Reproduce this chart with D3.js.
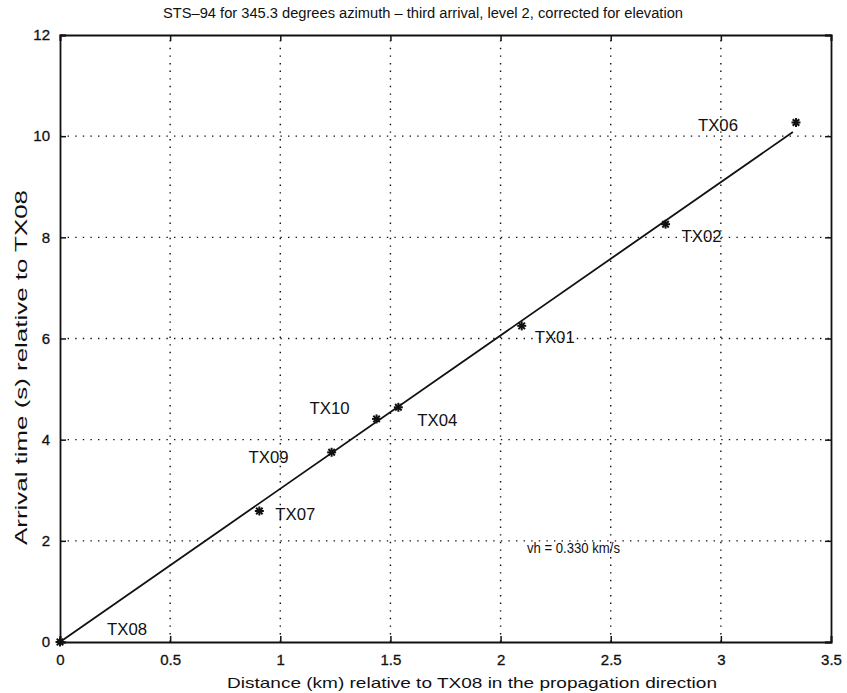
<!DOCTYPE html>
<html><head><meta charset="utf-8">
<script src="https://cdn.jsdelivr.net/npm/d3@7"></script>
<style>
body{margin:0;background:#fff;}
svg{display:block;font-family:"Liberation Sans",Arial,Helvetica,sans-serif;}
</style></head>
<body><div id="chart"></div>
<script>
const stations = ["TX08","TX07","TX09","TX10","TX04","TX01","TX02","TX06"];
const distances = [0, 0.905, 1.233, 1.437, 1.536, 2.096, 2.749, 3.341];
const arrivalTimes = [0, 2.59, 3.75, 4.41, 4.64, 6.25, 8.26, 10.27];
const xTicks = [0, 0.5, 1, 1.5, 2, 2.5, 3, 3.5];
const yTicks = [0, 2, 4, 6, 8, 10, 12];
const velocity = 0.330;
const fitRange = [0, 3.327];

const W = 847, H = 693;
const m = {left: 60, right: 16, top: 35, bottom: 51};
const svg = d3.select("#chart").append("svg").attr("width", W).attr("height", H);
const x = d3.scaleLinear().domain([0, 3.5]).range([m.left, W - m.right]);
const y = d3.scaleLinear().domain([0, 12]).range([H - m.bottom, m.top]);
const ink = "#111";

// grid
const g = svg.append("g");
g.selectAll(".gx").data(xTicks.slice(1, -1)).enter().append("line")
  .attr("x1", d => x(d)).attr("x2", d => x(d)).attr("y1", y(0)).attr("y2", y(12))
  .attr("stroke", ink).attr("stroke-width", 1.4).attr("stroke-dasharray", "1.4,6.2");
g.selectAll(".gy").data(yTicks.slice(1, -1)).enter().append("line")
  .attr("y1", d => y(d)).attr("y2", d => y(d)).attr("x1", x(0)).attr("x2", x(3.5))
  .attr("stroke", ink).attr("stroke-width", 1.4).attr("stroke-dasharray", "1.4,6.2");

// axes with inward ticks
const tickFmt = d => d3.format("")(d);
const axB = d3.axisBottom(x).tickValues(xTicks).tickSize(-6).tickPadding(12).tickFormat(tickFmt);
const axT = d3.axisTop(x).tickValues(xTicks).tickSize(-6).tickFormat("");
const axL = d3.axisLeft(y).tickValues(yTicks).tickSize(-6).tickPadding(10).tickFormat(tickFmt);
const axR = d3.axisRight(y).tickValues(yTicks).tickSize(-6).tickFormat("");
function styleAxis(sel){
  sel.select(".domain").attr("stroke", ink).attr("stroke-width", 1.8);
  sel.selectAll(".tick line").attr("stroke", ink).attr("stroke-width", 1.5);
  sel.selectAll(".tick text").attr("fill", ink).style("font-size", "15px")
    .style("font-family", "'Liberation Sans',Arial,sans-serif").attr("stroke", ink).attr("stroke-width", 0.3);
}
svg.append("g").attr("transform", `translate(0,${y(0)})`).call(axB).call(styleAxis);
svg.append("g").attr("transform", `translate(0,${y(12)})`).call(axT).call(styleAxis);
svg.append("g").attr("transform", `translate(${x(0)},0)`).call(axL).call(styleAxis);
svg.append("g").attr("transform", `translate(${x(3.5)},0)`).call(axR).call(styleAxis);

// fit line
svg.append("line")
  .attr("x1", x(fitRange[0])).attr("y1", y(fitRange[0] / velocity))
  .attr("x2", x(fitRange[1])).attr("y2", y(fitRange[1] / velocity))
  .attr("stroke", ink).attr("stroke-width", 1.8);

// asterisk markers
const pts = stations.map((s, i) => ({name: s, d: distances[i], t: arrivalTimes[i]}));
const r = 4.5;
const mk = svg.selectAll(".pt").data(pts).enter().append("g")
  .attr("transform", d => `translate(${x(d.d)},${y(d.t)})`);
[[0, -r, 0, r], [-r, 0, r, 0], [-r*0.72, -r*0.72, r*0.72, r*0.72], [-r*0.72, r*0.72, r*0.72, -r*0.72]].forEach(l => {
  mk.append("line").attr("x1", l[0]).attr("y1", l[1]).attr("x2", l[2]).attr("y2", l[3])
    .attr("stroke", ink).attr("stroke-width", 2);
});

// labels (pixel offsets from the markers)
const labelOffset = {TX08:[47,-7], TX07:[16,9], TX09:[-83,11], TX10:[-67,-5], TX04:[19,19], TX01:[13,17], TX02:[16,18], TX06:[-98,8]};
svg.selectAll(".lbl").data(pts).enter().append("text")
  .attr("x", d => x(d.d) + labelOffset[d.name][0])
  .attr("y", d => y(d.t) + labelOffset[d.name][1])
  .attr("fill", ink).style("font-size", "16px")
  .attr("textLength", 40).attr("lengthAdjust", "spacingAndGlyphs")
  .text(d => d.name);

// velocity annotation
svg.append("text").attr("x", 527).attr("y", 553).attr("fill", ink).style("font-size", "14px")
  .attr("textLength", 93).attr("lengthAdjust", "spacingAndGlyphs")
  .text("vh = " + velocity.toFixed(3) + " km/s");

// titles
svg.append("text").attr("x", 163).attr("y", 18).attr("fill", ink).style("font-size", "14px")
  .attr("textLength", 520).attr("lengthAdjust", "spacingAndGlyphs")
  .text("STS\u201394 for 345.3 degrees azimuth \u2013 third arrival, level 2, corrected for elevation");
svg.append("text").attr("x", 227).attr("y", 688).attr("fill", ink).style("font-size", "15px")
  .attr("textLength", 490).attr("lengthAdjust", "spacingAndGlyphs")
  .text("Distance (km) relative to TX08 in the propagation direction");
svg.append("text").attr("transform", "translate(27,545) rotate(-90)").attr("fill", ink).style("font-size", "16px")
  .attr("textLength", 355).attr("lengthAdjust", "spacingAndGlyphs")
  .text("Arrival time (s) relative to TX08");
</script></body></html>
